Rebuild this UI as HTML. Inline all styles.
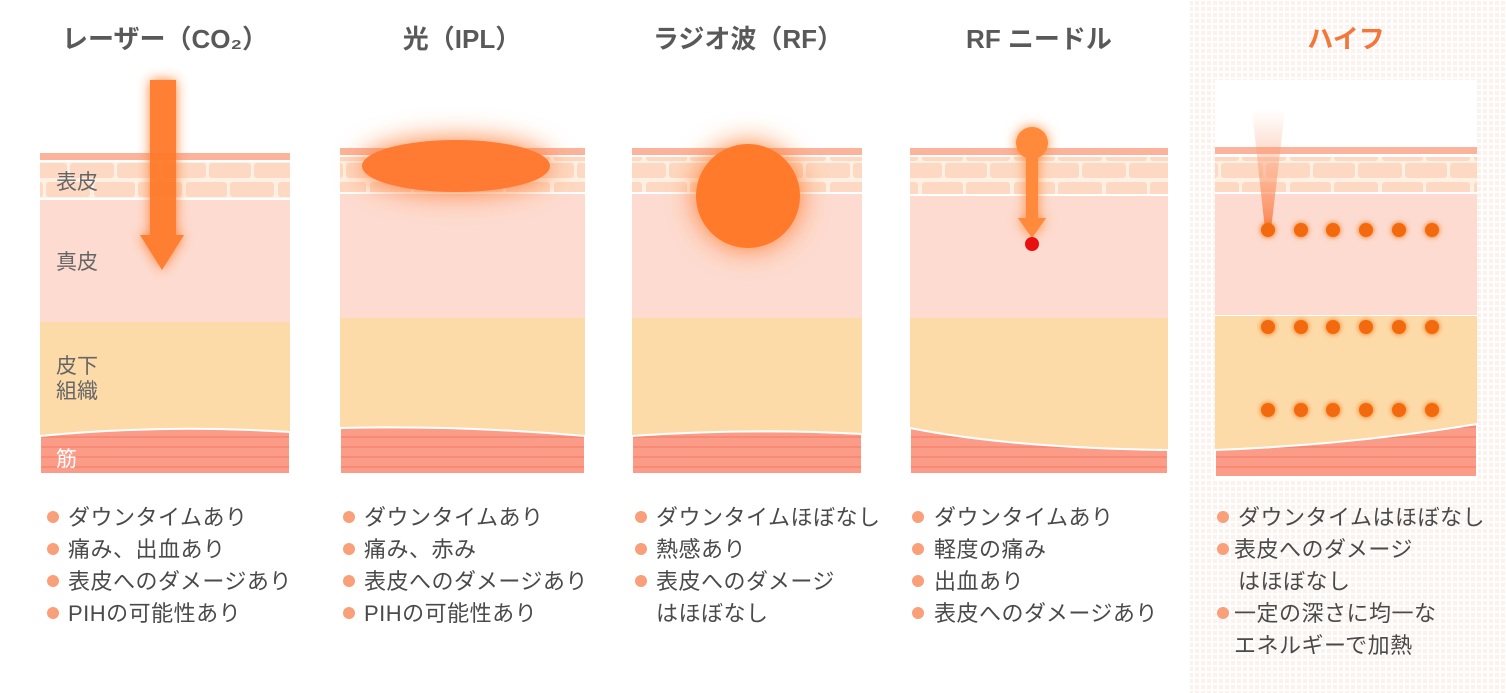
<!DOCTYPE html>
<html><head><meta charset="utf-8"><style>
html,body{margin:0;padding:0;background:#fff}
svg{display:block}
text{font-family:"Liberation Sans","Noto Sans CJK JP",sans-serif}
.t{font-size:26px;font-weight:bold;fill:#595959}
.b{font-size:22px;fill:#4a4a4a;letter-spacing:0.5px}
.lb{font-size:21px;fill:#666}
</style></head><body>
<svg width="1506" height="693" viewBox="0 0 1506 693" xmlns="http://www.w3.org/2000/svg">
<defs>
<pattern id="dots" width="6" height="6" patternUnits="userSpaceOnUse"><rect width="6" height="6" fill="#fff"/><rect x="1" y="1" width="4" height="4" fill="#fdf1ec"/></pattern>
<pattern id="cells" width="92" height="36" patternUnits="userSpaceOnUse">
<rect width="92" height="36" fill="#fff0e4"/>
<rect x="2" y="2" width="41" height="15" rx="3" fill="#fdd8c2"/><rect x="46" y="2" width="44" height="15" rx="3" fill="#fdd8c2"/>
<rect x="-20" y="19" width="42" height="15" rx="3" fill="#fdd8c2"/><rect x="25" y="19" width="42" height="15" rx="3" fill="#fdd8c2"/><rect x="70" y="19" width="42" height="15" rx="3" fill="#fdd8c2"/>
</pattern>
<pattern id="musc" width="20" height="10" patternUnits="userSpaceOnUse"><rect width="20" height="10" fill="#fb9c88"/><rect y="6" width="20" height="2" fill="#f98a76"/></pattern>
<filter id="glow" x="-50%" y="-50%" width="200%" height="200%"><feGaussianBlur in="SourceGraphic" stdDeviation="6" result="b"/><feMerge><feMergeNode in="b"/><feMergeNode in="SourceGraphic"/></feMerge></filter>
<filter id="bigglow" x="-60%" y="-100%" width="220%" height="300%"><feGaussianBlur in="SourceGraphic" stdDeviation="14" result="b"/><feMerge><feMergeNode in="b"/><feMergeNode in="SourceGraphic"/></feMerge></filter>
<filter id="dg" x="-100%" y="-100%" width="300%" height="300%"><feGaussianBlur in="SourceGraphic" stdDeviation="3" result="b"/><feMerge><feMergeNode in="b"/><feMergeNode in="SourceGraphic"/></feMerge></filter>
<linearGradient id="cone" x1="0" y1="0" x2="0" y2="1"><stop offset="0" stop-color="#fc9a70" stop-opacity="0"/><stop offset="0.5" stop-color="#fc9a70" stop-opacity="0.5"/><stop offset="1" stop-color="#f97a40" stop-opacity="0.9"/></linearGradient>
</defs>

<rect x="1190" y="0" width="316" height="693" fill="url(#dots)"/>
<rect x="1215" y="80" width="262" height="400" fill="#fff"/>

<!-- Panel 1 -->
<rect x="40" y="153" width="250" height="7" fill="#fbb39b"/>
<rect x="40" y="162" width="250" height="36" fill="url(#cells)"/>
<rect x="40" y="200" width="250" height="122" fill="#fddbd0"/>
<rect x="40" y="322" width="250" height="152" fill="#fddba9"/>
<path d="M40 436 Q165 424 290 432 L290 474 L40 474 Z" fill="url(#musc)" stroke="#fff" stroke-width="2"/>
<!-- Panel 2 -->
<rect x="340" y="148" width="245" height="7" fill="#fbb39b"/>
<rect x="340" y="157" width="245" height="35" fill="url(#cells)"/>
<rect x="340" y="194" width="245" height="124" fill="#fddbd0"/>
<rect x="340" y="318" width="245" height="156" fill="#fddba9"/>
<path d="M340 428 Q460 425 585 436 L585 474 L340 474 Z" fill="url(#musc)" stroke="#fff" stroke-width="2"/>
<!-- Panel 3 -->
<rect x="632" y="148" width="230" height="7" fill="#fbb39b"/>
<rect x="632" y="157" width="230" height="35" fill="url(#cells)"/>
<rect x="632" y="194" width="230" height="124" fill="#fddbd0"/>
<rect x="632" y="318" width="230" height="156" fill="#fddba9"/>
<path d="M632 436 Q750 428 862 434 L862 474 L632 474 Z" fill="url(#musc)" stroke="#fff" stroke-width="2"/>
<!-- Panel 4 -->
<rect x="910" y="148" width="258" height="7" fill="#fbb39b"/>
<rect x="910" y="157" width="258" height="37" fill="url(#cells)"/>
<rect x="910" y="196" width="258" height="122" fill="#fddbd0"/>
<rect x="910" y="318" width="258" height="156" fill="#fddba9"/>
<path d="M910 428 Q1010 448 1168 450 L1168 474 L910 474 Z" fill="url(#musc)" stroke="#fff" stroke-width="2"/>
<!-- Panel 5 -->
<rect x="1215" y="147" width="262" height="7" fill="#fbb39b"/>
<rect x="1215" y="157" width="262" height="35" fill="url(#cells)"/>
<rect x="1215" y="194" width="262" height="121" fill="#fddbd0"/>
<rect x="1215" y="316" width="262" height="161" fill="#fddba9"/>
<path d="M1215 450 Q1350 445 1477 424 L1477 477 L1215 477 Z" fill="url(#musc)" stroke="#fff" stroke-width="2"/>

<!-- effects -->
<g filter="url(#glow)" fill="#ff7a2a" opacity="0.95">
<path d="M150 80 L176 80 L176 235 L184 235 L162 270 L140 235 L150 235 Z"/>
</g>
<ellipse cx="456" cy="166" rx="94" ry="26" fill="#ff7a30" filter="url(#bigglow)"/>
<circle cx="748" cy="196" r="52" fill="#ff7a2a" filter="url(#bigglow)"/>
<g filter="url(#glow)" fill="#ff8a3a">
<circle cx="1032" cy="143" r="16"/>
<path d="M1026 150 L1038 150 L1038 218 L1046 218 L1032 238 L1018 218 L1026 218 Z"/>
</g>
<circle cx="1032" cy="244" r="7" fill="#e81010"/>
<path d="M1252 110 L1285 110 L1271 230 L1265 230 Z" fill="url(#cone)"/>
<g fill="#f26a10" filter="url(#dg)">
<circle cx="1268" cy="230" r="7"/><circle cx="1301" cy="230" r="7"/><circle cx="1333" cy="230" r="7"/><circle cx="1366" cy="230" r="7"/><circle cx="1399" cy="230" r="7"/><circle cx="1432" cy="230" r="7"/>
<circle cx="1268" cy="327" r="7"/><circle cx="1301" cy="327" r="7"/><circle cx="1333" cy="327" r="7"/><circle cx="1366" cy="327" r="7"/><circle cx="1399" cy="327" r="7"/><circle cx="1432" cy="327" r="7"/>
<circle cx="1268" cy="410" r="7"/><circle cx="1301" cy="410" r="7"/><circle cx="1333" cy="410" r="7"/><circle cx="1366" cy="410" r="7"/><circle cx="1399" cy="410" r="7"/><circle cx="1432" cy="410" r="7"/>
</g>

<!-- labels -->
<text class="lb" x="56" y="189">表皮</text>
<text class="lb" x="56" y="269">真皮</text>
<text class="lb" x="56" y="373">皮下</text>
<text class="lb" x="56" y="398">組織</text>
<text class="lb" x="56" y="466" style="fill:#fff">筋</text>

<!-- titles -->
<text class="t" x="165" y="48" text-anchor="middle">レーザー（CO₂）</text>
<text class="t" x="462" y="48" text-anchor="middle">光（IPL）</text>
<text class="t" x="748" y="48" text-anchor="middle">ラジオ波（RF）</text>
<text class="t" x="1039" y="48" text-anchor="middle">RF ニードル</text>
<text class="t" x="1346" y="48" text-anchor="middle" style="fill:#f5763a">ハイフ</text>

<!-- bullets -->
<g fill="#f9a07a">
<circle cx="53" cy="517" r="6"/><circle cx="53" cy="549" r="6"/><circle cx="53" cy="581" r="6"/><circle cx="53" cy="613" r="6"/>
<circle cx="349" cy="517" r="6"/><circle cx="349" cy="549" r="6"/><circle cx="349" cy="581" r="6"/><circle cx="349" cy="613" r="6"/>
<circle cx="641" cy="517" r="6"/><circle cx="641" cy="549" r="6"/><circle cx="641" cy="581" r="6"/>
<circle cx="918" cy="517" r="6"/><circle cx="918" cy="549" r="6"/><circle cx="918" cy="581" r="6"/><circle cx="918" cy="613" r="6"/>
<circle cx="1223" cy="517" r="6"/><circle cx="1223" cy="549" r="6"/><circle cx="1223" cy="613" r="6"/>
</g>
<g>
<text class="b" x="68" y="525">ダウンタイムあり</text>
<text class="b" x="68" y="557">痛み、出血あり</text>
<text class="b" x="68" y="589">表皮へのダメージあり</text>
<text class="b" x="68" y="621">PIHの可能性あり</text>
<text class="b" x="364" y="525">ダウンタイムあり</text>
<text class="b" x="364" y="557">痛み、赤み</text>
<text class="b" x="364" y="589">表皮へのダメージあり</text>
<text class="b" x="364" y="621">PIHの可能性あり</text>
<text class="b" x="656" y="525">ダウンタイムほぼなし</text>
<text class="b" x="656" y="557">熱感あり</text>
<text class="b" x="656" y="589">表皮へのダメージ</text>
<text class="b" x="656" y="621">はほぼなし</text>
<text class="b" x="934" y="525">ダウンタイムあり</text>
<text class="b" x="934" y="557">軽度の痛み</text>
<text class="b" x="934" y="589">出血あり</text>
<text class="b" x="934" y="621">表皮へのダメージあり</text>
<text class="b" x="1238" y="525">ダウンタイムはほぼなし</text>
<text class="b" x="1234" y="557">表皮へのダメージ</text>
<text class="b" x="1238" y="589">はほぼなし</text>
<text class="b" x="1234" y="621">一定の深さに均一な</text>
<text class="b" x="1234" y="653">エネルギーで加熱</text>
</g>
</svg>
</body></html>
